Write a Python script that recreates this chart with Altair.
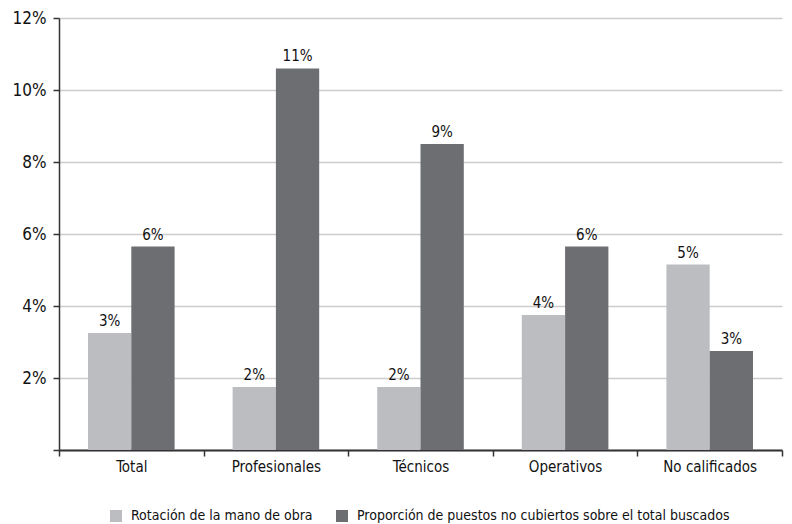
import altair as alt
import pandas as pd

categories = ["Total", "Profesionales", "Técnicos", "Operativos", "No calificados"]
series = [
    "Rotación de la mano de obra",
    "Proporción de puestos no cubiertos sobre el total buscados",
]
rotacion = [3.25, 1.75, 1.75, 3.75, 5.15]
proporcion = [5.65, 10.6, 8.5, 5.65, 2.75]
rot_labels = ["3%", "2%", "2%", "4%", "5%"]
prop_labels = ["6%", "11%", "9%", "6%", "3%"]
y_ticks = [0, 2, 4, 6, 8, 10, 12]
colors = ["#bcbdc0", "#6d6e71"]

rows = []
for i, c in enumerate(categories):
    rows.append({"cat": c, "serie": series[0], "value": rotacion[i], "label": rot_labels[i]})
    rows.append({"cat": c, "serie": series[1], "value": proporcion[i], "label": prop_labels[i]})
df = pd.DataFrame(rows)

FONT = "Liberation Sans Narrow, DejaVu Sans Condensed, Roboto Condensed, sans-serif"

x = alt.X(
    "cat:N",
    sort=categories,
    scale=alt.Scale(paddingInner=0, paddingOuter=0),
    axis=alt.Axis(
        title=None,
        labelAngle=0,
        tickBand="extent",
        ticks=True,
        tickSize=6,
        tickColor="#333333",
        tickWidth=1.5,
        domainColor="#333333",
        domainWidth=2,
        labelFontSize=15,
        labelColor="#111111",
        labelPadding=3,
    ),
)
xo = alt.XOffset(
    "serie:N",
    sort=series,
    scale=alt.Scale(paddingInner=0, paddingOuter=0.67),
)
y = alt.Y(
    "value:Q",
    scale=alt.Scale(domain=[0, 12], nice=False),
    axis=alt.Axis(
        title=None,
        values=y_ticks,
        labelExpr="datum.value == 0 ? '' : datum.value + '%'",
        grid=True,
        gridColor="#cccccc",
        gridWidth=1.5,
        tickSize=6,
        tickColor="#333333",
        tickWidth=1.5,
        domainColor="#333333",
        domainWidth=1.5,
        labelFontSize=17,
        labelColor="#111111",
        labelPadding=7,
    ),
)

bars = alt.Chart(df).mark_bar().encode(
    x=x,
    xOffset=xo,
    y=y,
    color=alt.Color(
        "serie:N",
        sort=series,
        scale=alt.Scale(domain=series, range=colors),
        legend=alt.Legend(
            title=None,
            orient="none",
            legendX=50,
            legendY=491,
            direction="horizontal",
            symbolType="square",
            symbolSize=144,
            symbolStrokeWidth=0,
            labelFontSize=14,
            labelColor="#111111",
            labelOffset=8,
            labelLimit=0,
            columnPadding=22,
        ),
    ),
)

text = alt.Chart(df).mark_text(dy=-12, fontSize=15, color="#111111").encode(
    x=x,
    xOffset=xo,
    y=y,
    text="label:N",
)

chart = (
    alt.layer(bars, text)
    .properties(
        width=723,
        height=432,
        padding={"left": 51, "top": 10, "right": 2, "bottom": 74},
        autosize=alt.AutoSizeParams(type="none"),
    )
    .configure(font=FONT)
    .configure_view(stroke=None)
)

chart.save("out.html", embed_options={"renderer": "svg", "actions": False})
